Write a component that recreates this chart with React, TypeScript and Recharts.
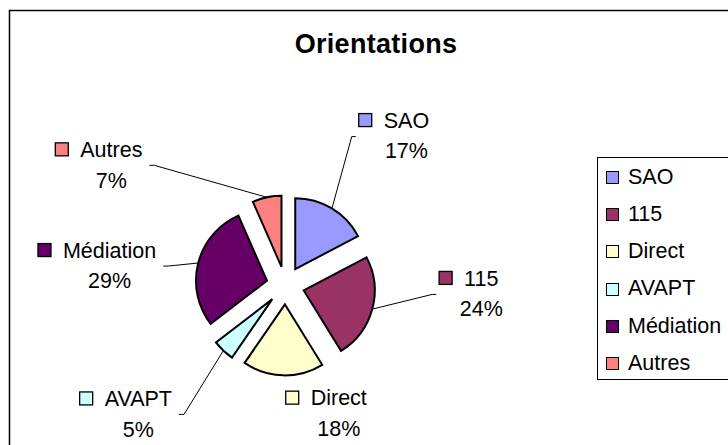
import React from 'react';
import { PieChart, Pie, Cell, Legend, Sector } from 'recharts';

// ---- data ----
const categories = ['SAO', '115', 'Direct', 'AVAPT', 'Médiation', 'Autres'];
const shares = [17.3, 23.9, 18.4, 5.0, 28.8, 6.6];
const colors = ['#9999FF', '#993366', '#FFFFCC', '#CCFFFF', '#660066', '#FF8080'];
const chartTitle = 'Orientations';

// ---- label layout (Excel-style manually placed labels) ----
// polar distance from pie centre and angle shift relative to the slice mid-angle
const labelRadius = [193, 196, 138, 195, 177, 212];
const labelAngleShift = [-7.7, 13.1, 24.2, -5.4, 7.8, 43.3];
const labelLeader = [true, true, false, true, true, true];

const data = categories.map((name, i) => ({ name, value: shares[i] }));

const W = 728;
const H = 445;
const CX = 285.4;
const CY = 285.4;
const R = 71;
const EXPLODE = 19;
const FONT = "'Liberation Sans', Arial, sans-serif";
const FS = 21.5;
const RAD = Math.PI / 180;

let ctx: CanvasRenderingContext2D | null = null;
const measure = (t: string): number => {
  try {
    if (!ctx) ctx = document.createElement('canvas').getContext('2d');
    if (ctx) {
      ctx.font = `${FS}px 'Liberation Sans', Arial, sans-serif`;
      return ctx.measureText(t).width;
    }
  } catch (e) {}
  return t.length * FS * 0.55;
};

const ExplodedSector = (props: any) => {
  const { cx, cy, innerRadius, outerRadius, startAngle, endAngle, fill } = props;
  const mid = props.midAngle ?? (startAngle + endAngle) / 2;
  const dx = EXPLODE * Math.cos(-mid * RAD);
  const dy = EXPLODE * Math.sin(-mid * RAD);
  return (
    <Sector
      cx={cx + dx}
      cy={cy + dy}
      innerRadius={innerRadius}
      outerRadius={outerRadius}
      startAngle={startAngle}
      endAngle={endAngle}
      fill={fill}
      stroke="#000"
      strokeWidth={2}
      strokeLinejoin="miter"
    />
  );
};

const renderLabel = (props: any) => {
  const { cx, cy, midAngle, outerRadius, percent, index } = props;
  const name: string = props.payload?.name ?? props.name ?? categories[index];
  const pct = `${Math.round(percent * 100)}%`;
  const ang = midAngle + labelAngleShift[index];
  const lx = cx + labelRadius[index] * Math.cos(-ang * RAD);
  const ly = cy + labelRadius[index] * Math.sin(-ang * RAD);
  const l1 = ly - 15;
  const l2 = ly + 15.5;
  const w1 = measure(name);
  const w2 = measure(pct);
  const keyLeft = lx - w1 / 2 - 12 - 13;
  const capHalf = (FS * 0.716) / 2;

  let leader: React.ReactNode = null;
  if (labelLeader[index]) {
    const ax = cx + (outerRadius + EXPLODE) * Math.cos(-midAngle * RAD);
    const ay = cy + (outerRadius + EXPLODE) * Math.sin(-midAngle * RAD);
    let ex: number, ey: number, kx: number;
    if (lx > ax) {
      ex = keyLeft - 3;
      ey = ly + 1.5;
      kx = ex - 4;
    } else {
      ex = lx + Math.max(w1, w2) / 2 + 7;
      ey = ly + 1;
      kx = ex + 5;
    }
    leader = (
      <polyline
        points={`${ax},${ay} ${kx},${ey} ${ex},${ey}`}
        fill="none"
        stroke="#000"
        strokeWidth={1}
      />
    );
  }

  return (
    <g key={`lbl-${index}`}>
      {leader}
      <rect
        x={keyLeft}
        y={l1 - 6.5}
        width={13}
        height={13}
        fill={colors[index]}
        stroke="#000"
        strokeWidth={1.3}
      />
      <text x={lx} y={l1 + capHalf} textAnchor="middle" fontFamily={FONT} fontSize={FS} fill="#000">
        {name}
      </text>
      <text x={lx} y={l2 + capHalf} textAnchor="middle" fontFamily={FONT} fontSize={FS} fill="#000">
        {pct}
      </text>
    </g>
  );
};

const LegendBox = (props: any) => {
  const raw: any[] =
    props.payload && props.payload.length
      ? props.payload
      : data.map((d, i) => ({ value: d.name, color: colors[i] }));
  const payload = [...raw].sort(
    (a, b) => categories.indexOf(String(a.value)) - categories.indexOf(String(b.value))
  );
  return (
    <div
      style={{
        width: 150,
        height: 223,
        border: '1px solid #000',
        boxSizing: 'border-box',
        background: '#fff',
        paddingTop: 1,
        fontFamily: FONT,
        fontSize: FS,
        color: '#000',
      }}
    >
      {payload.map((p: any, i: number) => (
        <div
          key={i}
          style={{ height: 37.2, display: 'flex', alignItems: 'center', paddingLeft: 8 }}
        >
          <span
            style={{
              display: 'inline-block',
              width: 13,
              height: 13,
              boxSizing: 'border-box',
              border: '1px solid #000',
              background: p.color,
              marginRight: 9,
              flexShrink: 0,
            }}
          />
          <span style={{ lineHeight: 1, whiteSpace: 'nowrap' }}>{p.value}</span>
        </div>
      ))}
    </div>
  );
};

export default function App() {
  return (
    <div
      style={{
        position: 'absolute',
        left: 0,
        top: 0,
        width: W,
        height: H,
        overflow: 'hidden',
        background: '#fff',
      }}
    >
      <PieChart width={W} height={H} margin={{ top: 0, right: 0, bottom: 0, left: 0 }}>
        <rect x={9.5} y={10.5} width={780} height={480} fill="#fff" stroke="#000" strokeWidth={1.5} />
        <text
          x={376}
          y={53}
          textAnchor="middle"
          fontFamily={FONT}
          fontSize={27}
          fontWeight="bold"
          letterSpacing={0.3}
          fill="#000"
        >
          {chartTitle}
        </text>
        <Pie
          data={data}
          dataKey="value"
          nameKey="name"
          cx={CX}
          cy={CY}
          outerRadius={R}
          startAngle={90}
          endAngle={-270}
          isAnimationActive={false}
          shape={ExplodedSector}
          label={renderLabel}
          labelLine={false}
          stroke="#000"
          strokeWidth={2}
        >
          {data.map((d, i) => (
            <Cell key={d.name} fill={colors[i]} />
          ))}
        </Pie>
        <Legend
          layout="vertical"
          align="right"
          verticalAlign="middle"
          itemSorter={null as any}
          content={<LegendBox />}
          wrapperStyle={{ left: 597, top: 157, right: 'auto', bottom: 'auto', width: 150 }}
        />
      </PieChart>
    </div>
  );
}
